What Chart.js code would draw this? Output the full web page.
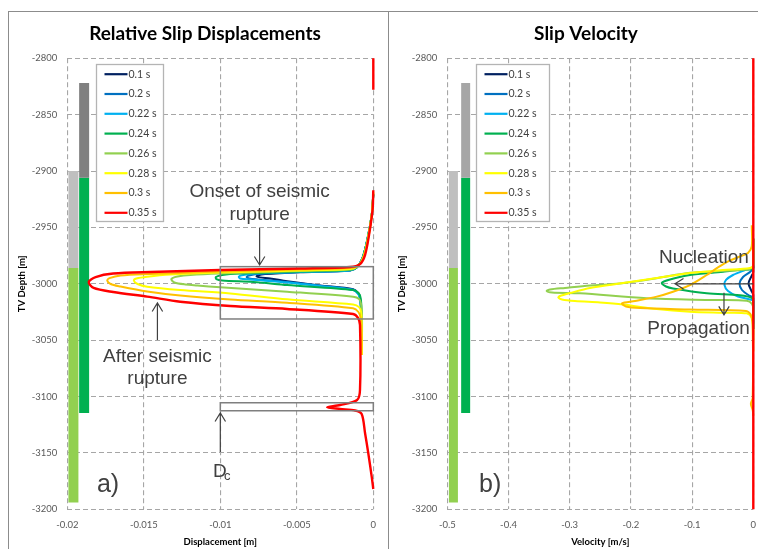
<!DOCTYPE html>
<html lang="en">
<head>
<meta charset="UTF-8">
<title>Relative Slip Displacements / Slip Velocity</title>
<script src="https://cdn.jsdelivr.net/npm/chart.js"></script>
<style>
    body {
        margin: 0;
        background: #fff;
        width: 758px;
        height: 549px;
        overflow: hidden;
        position: relative;
    }
    .panel {
        position: absolute;
        top: 11px;
        height: 560px;
        border: 1px solid #8c8c8c;
        box-sizing: border-box;
    }
    canvas {
        position: absolute;
        top: 0;
    }
</style>
</head>
<body>
<div class="panel" style="left:8px;width:381px"></div>
<div class="panel" style="left:388px;width:420px"></div>
<canvas id="slipChart" width="410" height="549" style="left:0"></canvas>
<canvas id="velChart" width="412" height="549" style="left:380px"></canvas>
<script>
    // legend entries (time steps)
    const timeLabels = ['0.1 s', '0.2 s', '0.22 s', '0.24 s', '0.26 s', '0.28 s', '0.3 s', '0.35 s'];
    const timeColors = ['#002060', '#0070c0', '#00b0f0', '#00b050', '#92d050', '#ffff00', '#ffc000', '#ff0000'];

    // axis ticks
    const depthTicks = [-3200, -3150, -3100, -3050, -3000, -2950, -2900, -2850, -2800];
    const dispTicks = [-0.02, -0.015, -0.01, -0.005, 0];
    const dispTickLabels = ['-0.02', '-0.015', '-0.01', '-0.005', '0'];
    const velTicks = [-0.5, -0.4, -0.3, -0.2, -0.1, 0];
    const velTickLabels = ['-0.5', '-0.4', '-0.3', '-0.2', '-0.1', '0'];

    // formation bars: [top, change of colour, bottom] depth
    const barLightDepth = [-2900, -2986, -3194];
    const barDarkDepth = [-2822, -2906, -3114.5];
    const slipBarX = [-0.0196, -0.0189];
    const velBarX = [-0.49, -0.47];

    // relative slip displacement [m] vs TV depth [m]
    const slip010 = [[0,-2920.8],[-0.0001,-2938.6],[-0.00039,-2960.8],[-0.00072,-2977.7],[-0.00109,-2985.6],[-0.00152,-2988.2],[-0.00478,-2989.8],[-0.00707,-2991.4],[-0.00753,-2992.4],[-0.00763,-2993.4],[-0.0074,-2994.3],[-0.00674,-2995.2],[-0.00563,-2997.8],[-0.00348,-3001.5],[-0.00132,-3004.8],[-0.00098,-3008.3],[-0.00087,-3011.8],[-0.0008,-3023.3],[-0.0008,-3049.9]];
    const slip020 = [[0,-2920.8],[-0.0001,-2938.6],[-0.00039,-2960.8],[-0.00072,-2977.7],[-0.00109,-2985.6],[-0.00152,-2988.2],[-0.00478,-2989.6],[-0.0074,-2991.1],[-0.00805,-2992.4],[-0.00828,-2994],[-0.00811,-2995.3],[-0.00753,-2996.2],[-0.00563,-2998.4],[-0.00348,-3001.7],[-0.00132,-3005.1],[-0.00098,-3008.7],[-0.00087,-3012.7],[-0.0008,-3023.3],[-0.0008,-3049.9]];
    const slip022 = [[0,-2920.8],[-0.0001,-2938.6],[-0.00039,-2960.8],[-0.00072,-2977.7],[-0.00109,-2985.6],[-0.00152,-2988.2],[-0.00478,-2989.6],[-0.00772,-2990.9],[-0.0085,-2992.2],[-0.00879,-2993.6],[-0.0087,-2995.3],[-0.00804,-2996.2],[-0.00563,-2998.9],[-0.00348,-3002],[-0.00132,-3005.5],[-0.00098,-3009.1],[-0.00087,-3013.5],[-0.0008,-3023.3],[-0.0008,-3049.9]];
    const slip024 = [[0,-2920.4],[-0.0001,-2938.1],[-0.00038,-2960.3],[-0.0007,-2977.2],[-0.00106,-2985.1],[-0.00152,-2987.8],[-0.00478,-2989.1],[-0.00869,-2990.9],[-0.00987,-2992.2],[-0.01029,-2994],[-0.01026,-2995.8],[-0.00987,-2997.1],[-0.00785,-2998.4],[-0.00563,-3001.1],[-0.00132,-3005.5],[-0.00097,-3008.2],[-0.00083,-3012.6],[-0.00077,-3023.3],[-0.00077,-3054.3]];
    const slip026 = [[0,-2919.9],[-0.00009,-2937.6],[-0.00035,-2959.8],[-0.00067,-2976.7],[-0.00103,-2984.6],[-0.00152,-2987.3],[-0.00478,-2988.6],[-0.01,-2990.9],[-0.01196,-2992.2],[-0.0128,-2993.5],[-0.01313,-2994.9],[-0.0132,-2996.2],[-0.013,-2998.8],[-0.01228,-3000.6],[-0.0115,-3001.5],[-0.01,-3003.1],[-0.00563,-3007],[-0.00132,-3011.5],[-0.00093,-3013.5],[-0.0008,-3017.9],[-0.00074,-3027.7],[-0.00074,-3058.7]];
    const slip028 = [[0,-2919.5],[-0.00009,-2937.2],[-0.00035,-2959.4],[-0.00064,-2976.2],[-0.001,-2984.2],[-0.00152,-2986.9],[-0.00478,-2988.2],[-0.01,-2990],[-0.01326,-2991.8],[-0.01478,-2993.7],[-0.01548,-2995.3],[-0.01565,-2997.1],[-0.01541,-3000.2],[-0.01478,-3002.6],[-0.01262,-3005.5],[-0.00935,-3008.5],[-0.00563,-3013.8],[-0.00132,-3018.3],[-0.00093,-3020.7],[-0.0008,-3025.1],[-0.00077,-3032.2],[-0.00074,-3063.2]];
    const slip030 = [[0,-2918.6],[-0.00007,-2936.3],[-0.00031,-2958.5],[-0.00061,-2975.3],[-0.00093,-2983.3],[-0.00152,-2986],[-0.00478,-2987.3],[-0.01,-2989.1],[-0.01457,-2991.3],[-0.01652,-2992.6],[-0.01724,-2995],[-0.01739,-2997.1],[-0.01717,-3000.2],[-0.01652,-3002.4],[-0.01478,-3006.8],[-0.01262,-3010.4],[-0.00935,-3013.9],[-0.00563,-3016.8],[-0.00132,-3021.7],[-0.00097,-3025],[-0.00083,-3030.3],[-0.00077,-3041],[-0.00077,-3063.2]];
    const slip035 = [[0,-2800],[0,-2828],[null,null],[0,-2917],[-0.00005,-2934.5],[-0.00028,-2956.7],[-0.00054,-2974.5],[-0.00087,-2982.5],[-0.00152,-2985.1],[-0.00478,-2986.4],[-0.01,-2987.8],[-0.01457,-2989.5],[-0.017,-2990.9],[-0.01815,-2994],[-0.0186,-2998.4],[-0.01828,-3003.7],[-0.017,-3007.3],[-0.01478,-3011.4],[-0.01262,-3015.9],[-0.00935,-3019.7],[-0.00563,-3022.3],[-0.00132,-3026.8],[-0.001,-3030.3],[-0.00087,-3036.6],[-0.00087,-3094.2],[-0.00106,-3103.1],[-0.00217,-3107.5],[-0.00302,-3109.5],[-0.00217,-3111],[-0.00119,-3112.4],[-0.00076,-3115.5],[-0.00054,-3132.3],[-0.00033,-3150.1],[-0.0001,-3171.4],[0,-3182]];

    // slip velocity [m/s] vs TV depth [m]
    const vel010 = [[0,-2960],[0,-2989.5],[-0.0029,-2993.1],[-0.0078,-2999.7],[-0.0029,-3006.4],[0,-3010],[0,-3040]];
    const vel020 = [[0,-2960],[0,-2986],[-0.0054,-2989.5],[-0.0168,-2994],[-0.0225,-2999.7],[-0.0185,-3005.5],[-0.007,-3010.4],[0,-3012.6],[0,-3040]];
    const vel022 = [[0,-2960],[0,-2985.1],[-0.0136,-2987.8],[-0.0332,-2992.2],[-0.0446,-2996.6],[-0.0471,-3001.1],[-0.0413,-3006.4],[-0.025,-3011.3],[-0.0054,-3013.9],[0,-3015.3],[0,-3040]];
    const vel024 = [[0,-2960],[0,-2986],[-0.0217,-2987.3],[-0.0495,-2989.3],[-0.1034,-2992.2],[-0.1361,-2996.2],[-0.1497,-2999.3],[-0.1426,-3002.4],[-0.1312,-3004.2],[-0.0761,-3008.4],[-0.0217,-3010.2],[-0.0021,-3012.6],[0,-3016.1],[0,-3040]];
    const vel026 = [[0,-2960],[0,-2984.2],[-0.0108,-2987.3],[-0.1034,-2990.2],[-0.1578,-2995.1],[-0.2178,-2999.7],[-0.2668,-3001.5],[-0.3077,-3003.7],[-0.3322,-3005.1],[-0.3376,-3006.4],[-0.3289,-3007.7],[-0.2832,-3008.4],[-0.1742,-3012.9],[-0.0658,-3014.4],[-0.0108,-3015],[-0.0021,-3017.9],[0,-3023.2],[0,-3050]];
    const vel028 = [[0,-2960],[0,-2983.3],[-0.0054,-2986],[-0.0495,-2987.8],[-0.1034,-2990.4],[-0.1578,-2994.9],[-0.2129,-2999.3],[-0.2668,-3003.7],[-0.2995,-3008.2],[-0.3159,-3010.8],[-0.3186,-3012.2],[-0.3126,-3013.9],[-0.2913,-3015.3],[-0.2505,-3016.6],[-0.2129,-3018.4],[-0.1578,-3022.4],[-0.1034,-3024.7],[-0.0495,-3025.6],[-0.0108,-3026.2],[-0.0021,-3030.3],[0,-3036.5],[0,-3060]];
    const vel030 = [[-0.0025,-2948],[-0.0025,-2966.5],[-0.0087,-2972.7],[-0.0217,-2975.8],[-0.038,-2979.3],[-0.0577,-2985.5],[-0.0761,-2992.2],[-0.1034,-3001.1],[-0.1312,-3007],[-0.1578,-3011.4],[-0.1933,-3015.3],[-0.2145,-3017.3],[-0.208,-3020.1],[-0.1851,-3021.5],[-0.1034,-3022.8],[-0.0119,-3024.1],[-0.0038,-3027.7],[-0.001,-3041],[-0.001,-3101.3],[-0.004,-3106.6],[-0.001,-3111.9],[0,-3117.2]];
    const vel035 = [[0,-2800],[0,-3200]];

    const slipSeries = [slip010, slip020, slip022, slip024, slip026, slip028, slip030, slip035];
    const velSeries = [vel010, vel020, vel022, vel024, vel026, vel028, vel030, vel035];

    // annotations, in data units of each chart
    const slipNotes = {
        boxes: [[-0.01, -2984.8, 0, -3031.2], [-0.01, -3105.5, 0, -3112.6]],
        arrows: [[-0.00743, -2950.5, -0.00743, -2983.3], [-0.01411, -3049.9, -0.01411, -3017], [-0.01, -3149.2, -0.01, -3114.6]],
        texts: [
            { text: 'Onset of seismic', x: -0.00743, y: -2923, size: 19 },
            { text: 'rupture', x: -0.00743, y: -2943, size: 19 },
            { text: 'After seismic', x: -0.01411, y: -3069, size: 19 },
            { text: 'rupture', x: -0.01411, y: -3089.3, size: 19 },
            { text: 'D', x: -0.01003, y: -3171.3, size: 19 },
            { text: 'c', x: -0.00954, y: -3174, size: 13 },
            { text: 'a)', x: -0.01734, y: -3184.6, size: 25 }
        ],
        legendWidth: 67
    };
    const velNotes = {
        boxes: [],
        arrows: [[0, -3000, -0.128, -3000], [-0.0479, -3008, -0.0479, -3027.6]],
        texts: [
            { text: 'Nucleation', x: -0.0806, y: -2981.5, size: 19 },
            { text: 'Propagation', x: -0.0895, y: -3044.5, size: 19 },
            { text: 'b)', x: -0.43, y: -3184.6, size: 25 }
        ],
        legendWidth: 73
    };

    function drawArrow(ctx, x1, y1, x2, y2) {
        const ang = Math.atan2(y2 - y1, x2 - x1);
        const len = 10, spread = 0.55;
        ctx.beginPath();
        ctx.moveTo(x1, y1);
        ctx.lineTo(x2, y2);
        ctx.moveTo(x2 - len * Math.cos(ang - spread), y2 - len * Math.sin(ang - spread));
        ctx.lineTo(x2, y2);
        ctx.lineTo(x2 - len * Math.cos(ang + spread), y2 - len * Math.sin(ang + spread));
        ctx.stroke();
    }

    function drawLegend(chart, boxW) {
        const { ctx, chartArea } = chart;
        const left = Math.round(chartArea.left + 29) + 0.5;
        const top = Math.round(chartArea.top + 6) + 0.5;
        ctx.save();
        ctx.fillStyle = '#fff';
        ctx.fillRect(left, top, boxW, 157);
        ctx.strokeStyle = '#b4b4b4';
        ctx.lineWidth = 1.3;
        ctx.strokeRect(left, top, boxW, 157);
        ctx.font = '10.5px Lato';
        ctx.textBaseline = 'middle';
        ctx.fillStyle = '#404040';
        timeLabels.forEach((lab, i) => {
            const y = top + 9.7 + i * 19.8;
            ctx.strokeStyle = timeColors[i];
            ctx.lineWidth = 2.2;
            ctx.beginPath();
            ctx.moveTo(left + 8, y);
            ctx.lineTo(left + 31, y);
            ctx.stroke();
            ctx.fillText(lab, left + 32, y);
        });
        ctx.restore();
    }

    function notesPlugin(notes) {
        return {
            id: 'notes',
            afterDatasetsDraw(chart) {
                const { ctx, scales } = chart;
                const px = v => scales.x.getPixelForValue(v);
                const py = v => scales.y.getPixelForValue(v);
                ctx.save();
                ctx.strokeStyle = '#7f7f7f';
                ctx.lineWidth = 1.5;
                notes.boxes.forEach(b => ctx.strokeRect(px(b[0]), py(b[1]), px(b[2]) - px(b[0]), py(b[3]) - py(b[1])));
                ctx.strokeStyle = '#404040';
                ctx.lineWidth = 1.2;
                notes.arrows.forEach(a => drawArrow(ctx, px(a[0]), py(a[1]), px(a[2]), py(a[3])));
                ctx.fillStyle = '#404040';
                ctx.textAlign = 'center';
                ctx.textBaseline = 'alphabetic';
                notes.texts.forEach(t => {
                    ctx.font = t.size + 'px "Liberation Sans", Arial, sans-serif';
                    ctx.fillText(t.text, px(t.x), py(t.y));
                });
                ctx.restore();
                drawLegend(chart, notes.legendWidth);
            }
        };
    }

    function curveSets(series) {
        return series.map((pts, i) => ({
            label: timeLabels[i],
            data: pts.map(p => ({ x: p[0], y: p[1] })),
            showLine: true,
            borderColor: timeColors[i],
            borderWidth: i === 7 ? 2.4 : 2,
            pointRadius: 0,
            tension: 0.3,
            clip: 5,
            order: 8 - i
        }));
    }

    function barSets(xs, darkGray, width) {
        const seg = (x, a, b, color) => ({
            data: [{ x: x, y: a }, { x: x, y: b }],
            showLine: true,
            borderColor: color,
            borderWidth: width,
            borderCapStyle: 'butt',
            pointRadius: 0,
            clip: 5,
            order: 20
        });
        return [
            seg(xs[0], barLightDepth[0], barLightDepth[1], '#bfbfbf'),
            seg(xs[0], barLightDepth[1], barLightDepth[2], '#92d050'),
            seg(xs[1], barDarkDepth[0], barDarkDepth[1], darkGray),
            seg(xs[1], barDarkDepth[1], barDarkDepth[2], '#00b050')
        ];
    }

    const tickFont = { family: 'Lato', size: 9.5 };
    const axisTitleFont = { family: 'Lato', size: 9.5, weight: 'bold' };

    function makeChart(id, opt) {
        return new Chart(document.getElementById(id), {
            type: 'scatter',
            data: { datasets: barSets(opt.barX, opt.darkGray, opt.barWidth).concat(curveSets(opt.series)) },
            options: {
                responsive: false,
                animation: false,
                events: [],
                layout: { padding: 0 },
                plugins: {
                    legend: { display: false },
                    tooltip: { enabled: false },
                    title: {
                        display: true,
                        text: opt.title,
                        color: '#000',
                        font: { family: 'Lato', size: 19, weight: 'bold' },
                        padding: { top: 22.3, bottom: 13.2 }
                    }
                },
                scales: {
                    x: {
                        type: 'linear',
                        min: opt.xTicks[0],
                        max: 0,
                        afterBuildTicks: axis => { axis.ticks = opt.xTicks.map(v => ({ value: v })); },
                        afterFit: axis => { axis.height = 39.7; },
                        ticks: {
                            callback: (v, i) => opt.xTickLabels[i],
                            font: tickFont,
                            color: '#595959',
                            padding: 10.3,
                            maxRotation: 0,
                            autoSkip: false
                        },
                        grid: { color: '#a6a6a6', lineWidth: 1.1, drawTicks: false },
                        border: { display: false, dash: [5, 3] },
                        title: { display: true, text: opt.xTitle, font: axisTitleFont, color: '#000', padding: { top: 0, bottom: 1.6 } }
                    },
                    y: {
                        type: 'linear',
                        min: -3200,
                        max: -2800,
                        afterBuildTicks: axis => { axis.ticks = depthTicks.map(v => ({ value: v })); },
                        afterFit: axis => { axis.width = 67.3; },
                        ticks: {
                            callback: v => String(v),
                            font: tickFont,
                            color: '#595959',
                            padding: 10,
                            autoSkip: false
                        },
                        grid: { color: '#a6a6a6', lineWidth: 1.1, drawTicks: false },
                        border: { display: false, dash: [5, 3] },
                        title: { display: true, text: 'TV Depth [m]', font: axisTitleFont, color: '#000', padding: { top: 16, bottom: 0 } }
                    },
                    // empty right-hand axis: keeps the plot narrower than the panel so the title centres like the original
                    yRight: {
                        type: 'linear',
                        position: 'right',
                        min: -3200,
                        max: -2800,
                        ticks: { display: false },
                        grid: { display: false, drawTicks: false },
                        border: { display: false },
                        afterFit: axis => { axis.width = opt.padRight; }
                    }
                }
            },
            plugins: [notesPlugin(opt.notes)]
        });
    }

    makeChart('slipChart', {
        title: 'Relative Slip Displacements',
        xTitle: 'Displacement [m]',
        xTicks: dispTicks,
        xTickLabels: dispTickLabels,
        series: slipSeries,
        barX: slipBarX,
        darkGray: '#808080',
        barWidth: 10,
        padRight: 36.7,
        notes: slipNotes
    });

    makeChart('velChart', {
        title: 'Slip Velocity',
        xTitle: 'Velocity [m/s]',
        xTicks: velTicks,
        xTickLabels: velTickLabels,
        series: velSeries,
        barX: velBarX,
        darkGray: '#a6a6a6',
        barWidth: 9,
        padRight: 38.7,
        notes: velNotes
    });
</script>
</body>
</html>
